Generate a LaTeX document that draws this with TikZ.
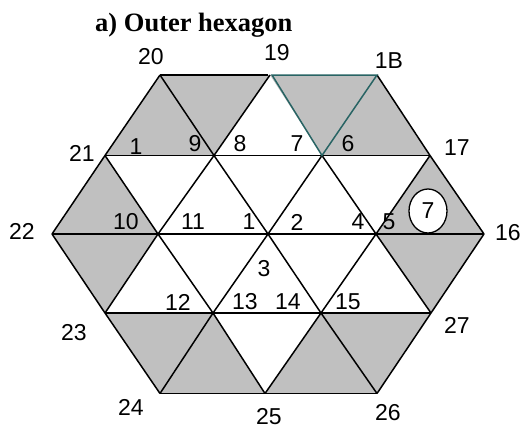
\documentclass[tikz,border=0pt]{standalone}
\usepackage{fontspec}
\usetikzlibrary{shapes.geometric}
\setmainfont{Liberation Sans}
\newfontfamily\titlefont{Liberation Serif}
\definecolor{shade}{RGB}{192,192,192}
\definecolor{tealline}{RGB}{40,100,100}
\begin{document}
\begin{tikzpicture}[x=1pt,y=-1pt,
  lbl/.style={inner sep=0pt,font=\fontsize{23}{23}\selectfont},
  grid/.style={line width=1.5pt,black},
  tealedge/.style={line width=1.5pt,tealline},
  tri/.style={fill=shade}]
\useasboundingbox (0,0) rectangle (523,429);
% vertices
\coordinate (v20) at (160,75);
\coordinate (v19) at (270,75);
\coordinate (v18) at (377,75);
\coordinate (v21) at (105,155.5);
\coordinate (a1) at (214,155.5);
\coordinate (a2) at (322,155.5);
\coordinate (v17) at (430,155.5);
\coordinate (v22) at (52,234);
\coordinate (b1) at (158,234);
\coordinate (b2) at (268,234);
\coordinate (b3) at (376,234);
\coordinate (v16) at (484,234);
\coordinate (v23) at (105,313);
\coordinate (c1) at (213,313);
\coordinate (c2) at (321,313);
\coordinate (v27) at (431,313);
\coordinate (v24) at (160,393.5);
\coordinate (v25) at (265,393.5);
\coordinate (v26) at (377,393.5);
% shaded triangles
\fill[tri] (v21) -- (v20) -- (a1) -- cycle;
\fill[tri] (v20) -- (v19) -- (a1) -- cycle;
\fill[tri] (v19) -- (v18) -- (a2) -- cycle;
\fill[tri] (a2) -- (v18) -- (v17) -- cycle;
\fill[tri] (v22) -- (v21) -- (b1) -- cycle;
\fill[tri] (b3) -- (v17) -- (v16) -- cycle;
\fill[tri] (v22) -- (b1) -- (v23) -- cycle;
\fill[tri] (b3) -- (v16) -- (v27) -- cycle;
\fill[tri] (v23) -- (c1) -- (v24) -- cycle;
\fill[tri] (v24) -- (c1) -- (v25) -- cycle;
\fill[tri] (v25) -- (c2) -- (v26) -- cycle;
\fill[tri] (c2) -- (v27) -- (v26) -- cycle;
% horizontal lines
\draw[grid] (v20) -- ([xshift=-2pt]v19);
\draw[grid] (v21) -- (v17);
\draw[grid] (v22) -- (v16);
\draw[grid] (v23) -- (v27);
\draw[grid] (v24) -- (v26);
% rising lines
\draw[grid] (v22) -- (v21) -- (v20);
\draw[grid] (v23) -- (b1) -- (a1) -- (v19);
\draw[grid] (v24) -- (c1) -- (b2) -- (a2);
\draw[grid] (v25) -- (c2) -- (b3) -- (v17);
\draw[grid] (v26) -- (v27) -- (v16);
% falling lines
\draw[grid] (v22) -- (v23) -- (v24);
\draw[grid] (v21) -- (b1) -- (c1) -- (v25);
\draw[grid] (v20) -- (a1) -- (b2) -- (c2) -- (v26);
\draw[grid] (a2) -- (b3) -- (v27);
\draw[grid] (v18) -- (v17) -- (v16);
% teal triangle
\draw[tealedge] ([xshift=2pt]v19) -- (v18) -- (a2) -- cycle;
% circled seven
\node[draw,line width=1.3pt,fill=white,ellipse,minimum width=38pt,minimum height=44pt,inner sep=0pt] (ring) at (428,211) {};
\node[lbl] (n7c) at (ring.center) {7};
% title
\node[inner sep=0pt,anchor=base west,font=\titlefont\bfseries\fontsize{26.5}{26.5}\selectfont] (title) at (95,31.5) {a) Outer hexagon};
% labels
\node[lbl] (l20) at (151,57) {20};
\node[lbl] (l19) at (277,53) {19};
\node[lbl] (l18) at (389,61) {1B};
\node[lbl] (l21) at (82,153) {21};
\node[lbl] (l1) at (136,147) {1};
\node[lbl] (l9) at (195,144) {9};
\node[lbl] (l8) at (240,144) {8};
\node[lbl] (l7) at (297,144) {7};
\node[lbl] (l6) at (348,144) {6};
\node[lbl] (l17) at (457,148) {17};
\node[lbl] (l22) at (22,231) {22};
\node[lbl] (l10) at (126,222) {10};
\node[lbl] (l11) at (193,222) {11};
\node[lbl] (l1b) at (249,222) {1};
\node[lbl] (l2) at (297,222) {2};
\node[lbl] (l4) at (358,222) {4};
\node[lbl] (l5) at (389,222) {5};
\node[lbl] (l16) at (508,233) {16};
\node[lbl] (l3) at (264,269) {3};
\node[lbl] (l12) at (178,302) {12};
\node[lbl] (l13) at (245,302) {13};
\node[lbl] (l14) at (288,302) {14};
\node[lbl] (l15) at (348,302) {15};
\node[lbl] (l23) at (74,333) {23};
\node[lbl] (l27) at (457,325) {27};
\node[lbl] (l24) at (131,407) {24};
\node[lbl] (l25) at (269,417) {25};
\node[lbl] (l26) at (388,413) {26};
\end{tikzpicture}
\end{document}
